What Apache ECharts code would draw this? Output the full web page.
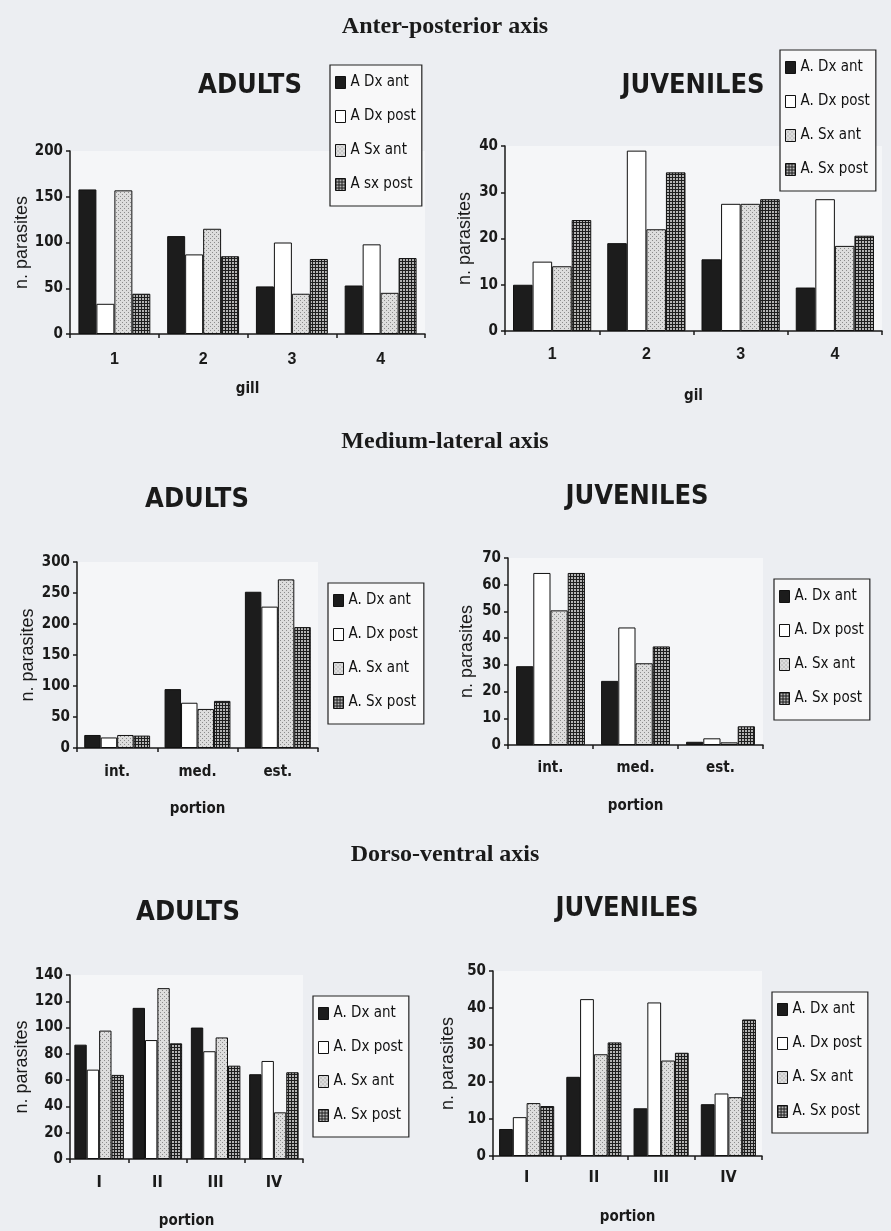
<!DOCTYPE html>
<html><head><meta charset="utf-8">
<script src="https://cdn.jsdelivr.net/npm/echarts@6/dist/echarts.min.js"></script>
<style>html,body{margin:0;padding:0;background:#eceef2}#c{width:891px;height:1231px}</style>
</head><body><div id="c"></div>
<script>
// ---------- DATA ----------
const gillCats = ['1', '2', '3', '4'];
const mlCats = ['int.', 'med.', 'est.'];
const dvCats = ['I', 'II', 'III', 'IV'];
const namesAP_A = ['A Dx ant', 'A Dx post', 'A Sx ant', 'A sx post'];
const namesStd = ['A. Dx ant', 'A. Dx post', 'A. Sx ant', 'A. Sx post'];

// Anter-posterior, adults
const apA_DxAnt = [158, 107, 52, 53];
const apA_DxPost = [33, 87, 100, 98];
const apA_SxAnt = [157, 115, 44, 45];
const apA_SxPost = [44, 85, 82, 83];
// Anter-posterior, juveniles
const apJ_DxAnt = [10, 19, 15.5, 9.4];
const apJ_DxPost = [15, 39, 27.5, 28.5];
const apJ_SxAnt = [14, 22, 27.5, 18.4];
const apJ_SxPost = [24, 34.3, 28.5, 20.6];
// Medium-lateral, adults
const mlA_DxAnt = [21, 95, 252];
const mlA_DxPost = [17, 73, 228];
const mlA_SxAnt = [21, 63, 272];
const mlA_SxPost = [20, 76, 195];
// Medium-lateral, juveniles
const mlJ_DxAnt = [29.5, 24, 1.2];
const mlJ_DxPost = [64.4, 44, 2.5];
const mlJ_SxAnt = [50.4, 30.6, 1];
const mlJ_SxPost = [64.4, 36.9, 7];
// Dorso-ventral, adults
const dvA_DxAnt = [87, 115, 100, 64.5];
const dvA_DxPost = [68, 90.5, 82, 74.6];
const dvA_SxAnt = [97.7, 130, 92.5, 35.5];
const dvA_SxPost = [64, 88, 71, 66];
// Dorso-ventral, juveniles
const dvJ_DxAnt = [7.3, 21.4, 12.9, 14];
const dvJ_DxPost = [10.5, 42.4, 41.5, 16.9];
const dvJ_SxAnt = [14.3, 27.5, 25.8, 15.9];
const dvJ_SxPost = [13.5, 30.7, 27.9, 36.9];

// ---------- STYLE ----------
const NARROW = '"Liberation Sans Narrow", "DejaVu Sans Condensed", "Arial Narrow", sans-serif';
const SANS = '"Liberation Sans", Arial, sans-serif';
const SERIF = '"Liberation Serif", "Times New Roman", serif';

function pat(w, h, draw) {
  const c = document.createElement('canvas'); c.width = w; c.height = h;
  draw(c.getContext('2d')); return c;
}
const dotted = pat(4, 4, g => {
  g.fillStyle = '#dddddd'; g.fillRect(0, 0, 4, 4);
  g.fillStyle = '#8c8c8c'; g.fillRect(0, 0, 1, 1); g.fillRect(2, 2, 1, 1);
});
const checked = pat(3, 3, g => {
  g.fillStyle = '#b4b4b4'; g.fillRect(0, 0, 3, 3);
  g.fillStyle = '#1e1e1e'; g.fillRect(0, 0, 3, 1); g.fillRect(0, 0, 1, 3);
});
const fills = ['#1c1c1c', '#ffffff', {image: dotted, repeat: 'repeat'}, {image: checked, repeat: 'repeat'}];

const charts = [
  {grid: {left: 70, top: 151, width: 355, height: 183}, cats: gillCats, max: 200, interval: 50, xName: 'gill',
   names: namesAP_A, data: [apA_DxAnt, apA_DxPost, apA_SxAnt, apA_SxPost], gap: '19%',
   legend: {left: 330, top: 65}, title: {text: 'ADULTS', x: 250, y: 86},
   lblMargin: 18, nameGap: 48, yNameGap: 36, xFont: SANS, xSize: 16},
  {grid: {left: 505, top: 146, width: 377, height: 185}, cats: gillCats, max: 40, interval: 10, xName: 'gil',
   names: namesStd, data: [apJ_DxAnt, apJ_DxPost, apJ_SxAnt, apJ_SxPost], gap: '17%',
   legend: {left: 780, top: 50}, title: {text: 'JUVENILES', x: 693, y: 86},
   lblMargin: 16, nameGap: 58, yNameGap: 31, xFont: SANS, xSize: 16},
  {grid: {left: 77, top: 562, width: 241, height: 186}, cats: mlCats, max: 300, interval: 50, xName: 'portion',
   names: namesStd, data: [mlA_DxAnt, mlA_DxPost, mlA_SxAnt, mlA_SxPost], gap: '18%',
   legend: {left: 328, top: 583}, title: {text: 'ADULTS', x: 197, y: 500},
   lblMargin: 17, nameGap: 54, yNameGap: 40, xFont: NARROW, xSize: 15},
  {grid: {left: 508, top: 558, width: 255, height: 187}, cats: mlCats, max: 70, interval: 10, xName: 'portion',
   names: namesStd, data: [mlJ_DxAnt, mlJ_DxPost, mlJ_SxAnt, mlJ_SxPost], gap: '19%',
   legend: {left: 774, top: 579}, title: {text: 'JUVENILES', x: 637, y: 497},
   lblMargin: 16, nameGap: 54, yNameGap: 32, xFont: NARROW, xSize: 15},
  {grid: {left: 70, top: 975, width: 233, height: 184}, cats: dvCats, max: 140, interval: 20, xName: 'portion',
   names: namesStd, data: [dvA_DxAnt, dvA_DxPost, dvA_SxAnt, dvA_SxPost], gap: '15%',
   legend: {left: 313, top: 996}, title: {text: 'ADULTS', x: 188, y: 913},
   lblMargin: 16, nameGap: 55, yNameGap: 36, xFont: NARROW, xSize: 16},
  {grid: {left: 493, top: 971, width: 269, height: 185}, cats: dvCats, max: 50, interval: 10, xName: 'portion',
   names: namesStd, data: [dvJ_DxAnt, dvJ_DxPost, dvJ_SxAnt, dvJ_SxPost], gap: '18%',
   legend: {left: 772, top: 992}, title: {text: 'JUVENILES', x: 627, y: 909},
   lblMargin: 14, nameGap: 54, yNameGap: 36, xFont: NARROW, xSize: 16}
];

const sectionTitles = [
  {text: 'Anter-posterior axis', y: 27},
  {text: 'Medium-lateral axis', y: 442},
  {text: 'Dorso-ventral axis', y: 855}
];

const option = {
  animation: false,
  backgroundColor: '#eceef2',
  grid: [], xAxis: [], yAxis: [], series: [], legend: [], graphic: []
};

sectionTitles.forEach(t => option.graphic.push({
  type: 'text', x: 445, y: t.y,
  style: {text: t.text, align: 'center', verticalAlign: 'middle', font: 'bold 24px ' + SERIF, fill: '#1a1a1a'}
}));

charts.forEach((c, i) => {
  option.grid.push(Object.assign({show: true, backgroundColor: '#f5f6f8', borderWidth: 0, containLabel: false}, c.grid));
  option.xAxis.push({
    type: 'category', gridIndex: i, data: c.cats,
    name: c.xName, nameLocation: 'middle', nameGap: c.nameGap,
    nameTextStyle: {fontFamily: NARROW, fontSize: 15, fontWeight: 'bold', color: '#1a1a1a'},
    axisLine: {lineStyle: {color: '#1a1a1a', width: 1.5}},
    axisTick: {show: true, length: 4, lineStyle: {color: '#1a1a1a', width: 1.5}},
    axisLabel: {margin: c.lblMargin, fontFamily: c.xFont, fontSize: c.xSize, fontWeight: 'bold', color: '#1a1a1a'}
  });
  option.yAxis.push({
    type: 'value', gridIndex: i, min: 0, max: c.max, interval: c.interval,
    name: 'n. parasites', nameLocation: 'middle', nameGap: c.yNameGap,
    nameTextStyle: {fontFamily: SANS, fontSize: 18, color: '#1a1a1a'},
    axisLine: {show: true, lineStyle: {color: '#1a1a1a', width: 1.5}},
    axisTick: {show: true, length: 4, lineStyle: {color: '#1a1a1a', width: 1.5}},
    splitLine: {show: false},
    axisLabel: {margin: 7, fontFamily: NARROW, fontSize: 15, fontWeight: 'bold', color: '#1a1a1a'}
  });
  c.names.forEach((n, j) => option.series.push({
    type: 'bar', name: n, xAxisIndex: i, yAxisIndex: i, data: c.data[j],
    barGap: '0%', barCategoryGap: c.gap,
    itemStyle: {color: fills[j], borderColor: '#111', borderWidth: 1},
    emphasis: {disabled: true}
  }));
  option.legend.push({
    orient: 'vertical', left: c.legend.left, top: c.legend.top,
    data: c.names.map(n => ({name: n, icon: 'rect'})), selectedMode: false,
    itemWidth: 10, itemHeight: 12, itemGap: 19,
    padding: [10, 6, 14, 5],
    borderColor: '#222', borderWidth: 1.2, backgroundColor: '#f8f8f9',
    textStyle: {fontFamily: NARROW, fontSize: 15, color: '#111', lineHeight: 14},
    itemStyle: {borderColor: '#111', borderWidth: 1}
  });
  option.graphic.push({
    type: 'text', x: c.title.x, y: c.title.y,
    style: {text: c.title.text, align: 'center', verticalAlign: 'middle', font: 'bold 27px ' + NARROW, fill: '#1a1a1a'}
  });
});

const chart = echarts.init(document.getElementById('c'), null, {renderer: 'canvas'});
chart.setOption(option);
</script>
</body></html>
